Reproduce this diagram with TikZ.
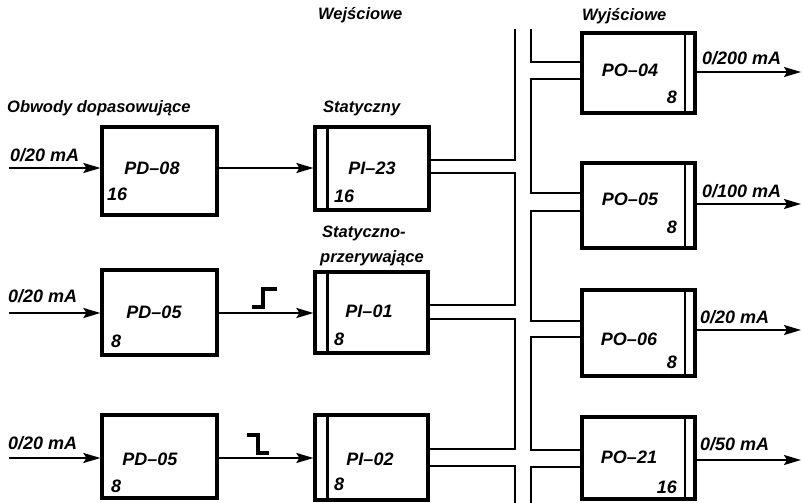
\documentclass[tikz,border=0pt]{standalone}
\usepackage{fontspec}
\setmainfont{Liberation Sans}
\usetikzlibrary{arrows.meta}
\begin{document}
\begin{tikzpicture}[x=1pt,y=-1pt,
  blk/.style={draw,line width=3.2pt,minimum width=#1,inner sep=0pt},
  txt/.style={inner sep=0pt,font=\fontsize{18}{20}\selectfont\bfseries\itshape},
  lab/.style={inner sep=0pt,font=\fontsize{18}{20}\selectfont\bfseries\itshape},
  head/.style={inner sep=0pt,font=\fontsize{16.5}{20}\selectfont\bfseries\itshape},
  arr/.style={line width=2pt,-{Stealth[length=17pt,width=10pt,inset=3pt]}},
  bus/.style={line width=2.2pt},
  strip/.style={line width=2.2pt},
  stepsym/.style={line width=3.2pt}
]
\useasboundingbox (0,0) rectangle (804,503);
% boxes
\node[blk=115pt,minimum height=88pt] (pd1) at (159.5,171) {};
\node[blk=115pt,minimum height=85pt] (pd2) at (159.5,312.5) {};
\node[blk=115pt,minimum height=83pt] (pd3) at (159.5,456.5) {};
\node[blk=114pt,minimum height=83pt] (pi1) at (372,168.5) {};
\node[blk=113pt,minimum height=81pt] (pi2) at (371.5,312.5) {};
\node[blk=113pt,minimum height=85pt] (pi3) at (371.5,457.5) {};
\node[blk=113pt,minimum height=80pt] (po1) at (638.5,73) {};
\node[blk=113pt,minimum height=85pt] (po2) at (638.5,205.5) {};
\node[blk=113pt,minimum height=86pt] (po3) at (638.5,333) {};
\node[blk=113pt,minimum height=82pt] (po4) at (638.5,458) {};
% strips
\draw[strip] ([xshift=14pt]pi1.north west) -- ([xshift=14pt]pi1.south west);
\draw[strip] ([xshift=14pt]pi2.north west) -- ([xshift=14pt]pi2.south west);
\draw[strip] ([xshift=14pt]pi3.north west) -- ([xshift=14pt]pi3.south west);
\draw[strip] ([xshift=-12pt]po1.north east) -- ([xshift=-12pt]po1.south east);
\draw[strip] ([xshift=-12pt]po2.north east) -- ([xshift=-12pt]po2.south east);
\draw[strip] ([xshift=-12pt]po3.north east) -- ([xshift=-12pt]po3.south east);
\draw[strip] ([xshift=-12pt]po4.north east) -- ([xshift=-12pt]po4.south east);
% input arrows
\coordinate (in1) at (9,168);
\coordinate (in2) at (9,313);
\coordinate (in3) at (9,458);
\draw[arr] (in1) -- (in1 -| pd1.west);
\draw[arr] (in2) -- (in2 -| pd2.west);
\draw[arr] (in3) -- (in3 -| pd3.west);
\draw[arr] (in1 -| pd1.east) -- (in1 -| pi1.west);
\draw[arr] (in2 -| pd2.east) -- (in2 -| pi2.west);
\draw[arr] (in3 -| pd3.east) -- (in3 -| pi3.west);
% output arrows
\coordinate (out1) at (801,72);
\coordinate (out2) at (801,204);
\coordinate (out3) at (801,330);
\coordinate (out4) at (801,460);
\draw[arr] (out1 -| po1.east) -- (out1);
\draw[arr] (out2 -| po2.east) -- (out2);
\draw[arr] (out3 -| po3.east) -- (out3);
\draw[arr] (out4 -| po4.east) -- (out4);
% step symbols
\draw[stepsym] (252,307) -- (263,307) -- (263,289) -- (277,289);
\draw[stepsym] (247,435) -- (258,435) -- (258,453) -- (269,453);
% bus
\coordinate (blt) at (515,29);
\coordinate (brt) at (531,29);
\coordinate (blb) at (515,503);
\coordinate (brb) at (531,503);
\draw[bus] (blt) |- (pi1.east |- 0,160);
\draw[bus] (pi1.east |- 0,173) -| (515,305) -- (pi2.east |- 0,305);
\draw[bus] (pi2.east |- 0,319) -| (515,449) -- (pi3.east |- 0,449);
\draw[bus] (pi3.east |- 0,466) -| (blb);
\draw[bus] (brt) |- (po1.west |- 0,62);
\draw[bus] (po1.west |- 0,79) -| (531,193) -- (po2.west |- 0,193);
\draw[bus] (po2.west |- 0,211) -| (531,321) -- (po3.west |- 0,321);
\draw[bus] (po3.west |- 0,337) -| (531,450) -- (po4.west |- 0,450);
\draw[bus] (po4.west |- 0,467) -| (brb);
% headings
\node[head,anchor=base west] (hwe) at (318,20) {Wejściowe};
\node[head,anchor=base west] (hwy) at (582,21) {Wyjściowe};
\node[head,anchor=base west] (hob) at (7,113) {Obwody dopasowujące};
\node[head,anchor=base west] (hst) at (323,113) {Statyczny};
\node[head,anchor=base west] (hsp1) at (322,237) {Statyczno-};
\node[head,anchor=base west] (hsp2) at (320,262) {przerywające};
% input labels
\node[lab,anchor=base west] (li1) at (10,161) {0/20 mA};
\node[lab,anchor=base west] (li2) at (8,302) {0/20 mA};
\node[lab,anchor=base west] (li3) at (8,449) {0/20 mA};
% output labels
\node[lab,anchor=base west] (lo1) at (702,65) {0/200 mA};
\node[lab,anchor=base west] (lo2) at (702,197) {0/100 mA};
\node[lab,anchor=base west] (lo3) at (700,323) {0/20 mA};
\node[lab,anchor=base west] (lo4) at (700,450) {0/50 mA};
% box labels
\node[txt,anchor=base] (tpd1) at (152,175) {PD--08};
\node[txt,anchor=base west] (npd1) at (107,200) {16};
\node[txt,anchor=base] (tpd2) at (154,318) {PD--05};
\node[txt,anchor=base west] (npd2) at (111,347) {8};
\node[txt,anchor=base] (tpd3) at (150,465) {PD--05};
\node[txt,anchor=base west] (npd3) at (111,492) {8};
\node[txt,anchor=base] (tpi1) at (372,175) {PI--23};
\node[txt,anchor=base west] (npi1) at (334,202) {16};
\node[txt,anchor=base] (tpi2) at (369,317) {PI--01};
\node[txt,anchor=base west] (npi2) at (334,345) {8};
\node[txt,anchor=base] (tpi3) at (370,465) {PI--02};
\node[txt,anchor=base west] (npi3) at (334,490) {8};
\node[txt,anchor=base] (tpo1) at (630,77) {PO--04};
\node[txt,anchor=base east] (npo1) at (677,103) {8};
\node[txt,anchor=base] (tpo2) at (630,205) {PO--05};
\node[txt,anchor=base east] (npo2) at (677,233) {8};
\node[txt,anchor=base] (tpo3) at (629,345) {PO--06};
\node[txt,anchor=base east] (npo3) at (677,368) {8};
\node[txt,anchor=base] (tpo4) at (629,463) {PO--21};
\node[txt,anchor=base east] (npo4) at (677,493) {16};
\end{tikzpicture}
\end{document}
